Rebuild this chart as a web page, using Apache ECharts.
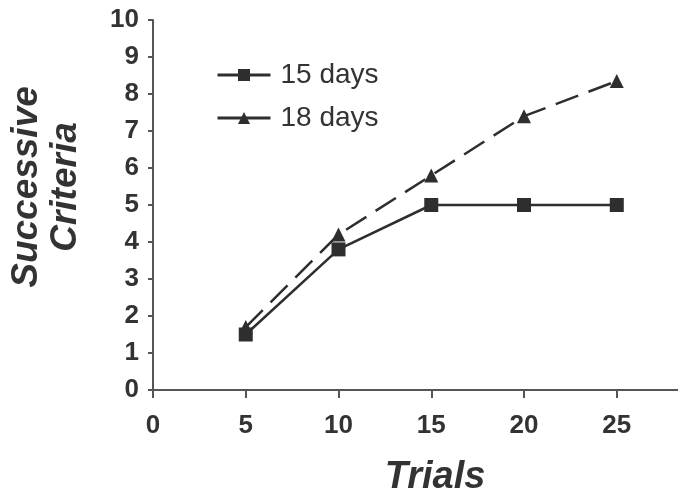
<!DOCTYPE html>
<html>
<head>
<meta charset="utf-8">
<script src="https://cdn.jsdelivr.net/npm/echarts@6/dist/echarts.min.js"></script>
<style>
html,body{margin:0;padding:0;background:#fff;}
#chart{width:678px;height:492px;}
</style>
</head>
<body>
<div id="chart"></div>
<script>
var trials = [5, 10, 15, 20, 25];
var days15 = [1.5, 3.8, 5, 5, 5];
var days18 = [1.7, 4.2, 5.8, 7.4, 8.35];
var xTicks = [0, 5, 10, 15, 20, 25];
var seriesNames = ['15 days', '18 days'];

function pairs(xs, ys) { return xs.map(function (x, i) { return [x, ys[i]]; }); }

var ink = '#2e2e2e';
var font = 'Liberation Sans, Arial, sans-serif';
var chart = echarts.init(document.getElementById('chart'));
chart.setOption({
  backgroundColor: '#ffffff',
  animation: false,
  grid: { left: 153, right: 0, top: 20, bottom: 102, containLabel: false, outerBoundsMode: 'none' },
  legend: {
    left: 216, top: 60, orient: 'vertical', itemGap: 13, padding: 0,
    itemWidth: 53, itemHeight: 15,
    lineStyle: { type: 'solid', width: 3 },
    textStyle: { fontFamily: font, fontSize: 28, color: '#333', padding: [0, 0, 0, 5], lineHeight: 30 },
    data: seriesNames
  },
  xAxis: {
    type: 'value', min: 0, max: 28.3,
    name: 'Trials', nameLocation: 'middle', nameGap: 69,
    nameTextStyle: { fontFamily: font, fontSize: 38, fontWeight: 'bold', fontStyle: 'italic', color: '#333', padding: [0, 0, 0, 39] },
    splitLine: { show: false },
    axisLine: { lineStyle: { color: '#555', width: 2 } },
    axisTick: { length: 8, lineStyle: { color: '#555', width: 2 }, customValues: xTicks },
    axisLabel: { margin: 23, fontFamily: font, fontSize: 26, fontWeight: 'bold', color: '#333', customValues: xTicks }
  },
  yAxis: {
    type: 'value', min: 0, max: 10, interval: 1,
    name: 'Successive\nCriteria', nameLocation: 'middle', nameGap: 68, nameRotate: 90,
    nameTextStyle: { fontFamily: font, fontSize: 37, fontWeight: 'bold', fontStyle: 'italic', color: '#333', lineHeight: 39, padding: [0, 0, 0, 36] },
    splitLine: { show: false },
    axisLine: { show: true, lineStyle: { color: '#555', width: 2 } },
    axisTick: { show: true, length: 5, lineStyle: { color: '#555', width: 2 } },
    axisLabel: { margin: 14, fontFamily: font, fontSize: 26, fontWeight: 'bold', color: '#333' }
  },
  series: [
    {
      name: seriesNames[0], type: 'line', data: pairs(trials, days15),
      symbol: 'rect', symbolSize: 14,
      itemStyle: { color: ink },
      lineStyle: { color: ink, width: 2.5, type: 'solid' }
    },
    {
      name: seriesNames[1], type: 'line', data: pairs(trials, days18),
      symbol: 'triangle', symbolSize: 14,
      itemStyle: { color: ink },
      lineStyle: { color: ink, width: 2.5, type: [24, 11] }
    }
  ]
});
</script>
</body>
</html>
